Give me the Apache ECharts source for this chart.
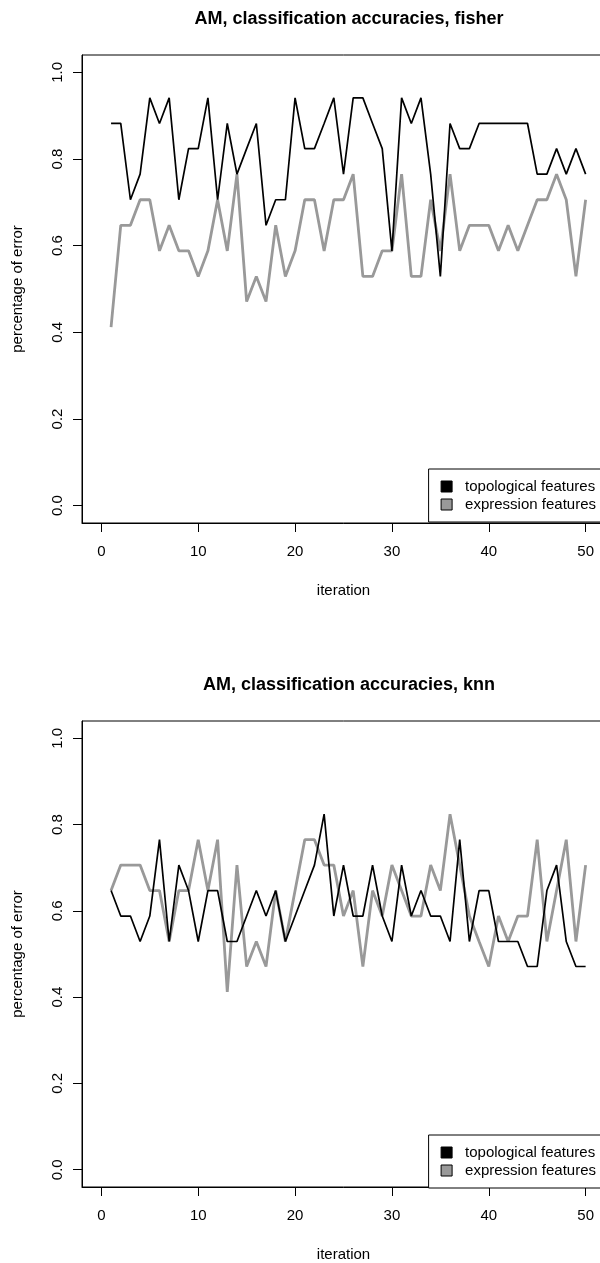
<!DOCTYPE html>
<html>
<head>
<meta charset="utf-8">
<script src="https://cdn.jsdelivr.net/npm/echarts@6/dist/echarts.min.js"></script>
<style>
html,body{margin:0;padding:0;background:#fff;overflow:hidden;width:600px;height:1263px;}
#c{width:606px;height:1263px;}
</style>
</head>
<body>
<div id="c"></div>
<script>
const iterations = [1,2,3,4,5,6,7,8,9,10,11,12,13,14,15,16,17,18,19,20,21,22,23,24,25,26,27,28,29,30,31,32,33,34,35,36,37,38,39,40,41,42,43,44,45,46,47,48,49,50];

const fisherTopological = [0.882,0.882,0.706,0.765,0.941,0.882,0.941,0.706,0.824,0.824,
  0.941,0.706,0.882,0.765,0.824,0.882,0.647,0.706,0.706,0.941,
  0.824,0.824,0.882,0.941,0.765,0.941,0.941,0.882,0.824,0.588,
  0.941,0.882,0.941,0.765,0.529,0.882,0.824,0.824,0.882,0.882,
  0.882,0.882,0.882,0.882,0.765,0.765,0.824,0.765,0.824,0.765];
const fisherExpression = [0.412,0.647,0.647,0.706,0.706,0.588,0.647,0.588,0.588,0.529,
  0.588,0.706,0.588,0.765,0.471,0.529,0.471,0.647,0.529,0.588,
  0.706,0.706,0.588,0.706,0.706,0.765,0.529,0.529,0.588,0.588,
  0.765,0.529,0.529,0.706,0.588,0.765,0.588,0.647,0.647,0.647,
  0.588,0.647,0.588,0.647,0.706,0.706,0.765,0.706,0.529,0.706];

const knnTopological = [0.647,0.588,0.588,0.529,0.588,0.765,0.529,0.706,0.647,0.529,
  0.647,0.647,0.529,0.529,0.588,0.647,0.588,0.647,0.529,0.588,
  0.647,0.706,0.824,0.588,0.706,0.588,0.588,0.706,0.588,0.529,
  0.706,0.588,0.647,0.588,0.588,0.529,0.765,0.529,0.647,0.647,
  0.529,0.529,0.529,0.471,0.471,0.647,0.706,0.529,0.471,0.471];
const knnExpression = [0.647,0.706,0.706,0.706,0.647,0.647,0.529,0.647,0.647,0.765,
  0.647,0.765,0.412,0.706,0.471,0.529,0.471,0.647,0.529,0.647,
  0.765,0.765,0.706,0.706,0.588,0.647,0.471,0.647,0.588,0.706,
  0.647,0.588,0.588,0.706,0.647,0.824,0.706,0.588,0.529,0.471,
  0.588,0.529,0.588,0.588,0.765,0.529,0.647,0.765,0.529,0.706];

const xTicks = [0,10,20,30,40,50];
const yTicks = [0,0.2,0.4,0.6,0.8,1.0];
const titles = ['AM, classification accuracies, fisher','AM, classification accuracies, knn'];
const seriesNames = ['topological features','expression features'];

const FONT = 'Liberation Sans, Arial, Helvetica, sans-serif';
const panelTops = [55, 721];
const plotH = 468;

function pairs(vals){ return iterations.map((it,i)=>[it, vals[i]]); }

const grids = panelTops.map(t => ({left: 82, right: 1, top: t, height: plotH, show: true, borderColor: '#000', borderWidth: 1, backgroundColor: 'transparent'}));

const xAxes = panelTops.map((t,i) => ({
  type: 'value', gridIndex: i, min: -2, max: 52,
  splitLine: {show: false},
  axisLine: {show: true, onZero: false, lineStyle: {color: '#000', width: 1}},
  axisTick: {show: true, length: 9, customValues: xTicks, lineStyle: {color: '#000'}},
  axisLabel: {customValues: xTicks, color: '#000', fontSize: 15, fontFamily: FONT, margin: 21},
  name: 'iteration', nameLocation: 'middle', nameGap: 60,
  nameTextStyle: {color: '#000', fontSize: 15, fontFamily: FONT}
}));

const yAxes = panelTops.map((t,i) => ({
  type: 'value', gridIndex: i, min: -0.04, max: 1.04,
  splitLine: {show: false},
  axisLine: {show: true, onZero: false, lineStyle: {color: '#000', width: 1}},
  axisTick: {show: true, length: 9, customValues: yTicks, lineStyle: {color: '#000'}},
  axisLabel: {customValues: yTicks, color: '#000', fontSize: 15, fontFamily: FONT, rotate: 90, margin: 17,
    formatter: v => v.toFixed(1)},
  name: 'percentage of error', nameLocation: 'middle', nameGap: 57,
  nameTextStyle: {color: '#000', fontSize: 15, fontFamily: FONT}
}));

const panelData = [[fisherTopological, fisherExpression],[knnTopological, knnExpression]];
const series = [];
panelData.forEach((pd, i) => {
  series.push({name: seriesNames[0], type: 'line', xAxisIndex: i, yAxisIndex: i, data: pairs(pd[0]),
    showSymbol: false, symbol: 'none', animation: false, z: 3,
    lineStyle: {color: '#000', width: 1.7}, itemStyle: {color: '#000'}});
  series.push({name: seriesNames[1], type: 'line', xAxisIndex: i, yAxisIndex: i, data: pairs(pd[1]),
    showSymbol: false, symbol: 'none', animation: false, z: 2,
    lineStyle: {color: '#999999', width: 2.8}, itemStyle: {color: '#999999'}});
});

const legends = panelTops.map(t => ({
  orient: 'vertical', right: 1, top: t + plotH - 54,
  data: seriesNames, icon: 'rect', itemWidth: 11, itemHeight: 11, itemGap: 3,
  padding: [10, 9, 10, 12], borderColor: '#000', borderWidth: 1, backgroundColor: '#fff',
  selectedMode: false,
  itemStyle: {borderColor: '#000', borderWidth: 1},
  textStyle: {color: '#000', fontSize: 15, fontFamily: FONT, lineHeight: 15, padding: [0,0,0,8]}
}));

const titleComps = panelTops.map((t,i) => ({
  text: titles[i], left: 344, textAlign: 'center', top: t - 50,
  textStyle: {fontSize: 18, fontWeight: 'bold', color: '#000', fontFamily: FONT, lineHeight: 18}
}));

const chart = echarts.init(document.getElementById('c'), null, {renderer: 'canvas'});
chart.setOption({
  animation: false,
  backgroundColor: '#fff',
  title: titleComps,
  grid: grids,
  xAxis: xAxes,
  yAxis: yAxes,
  legend: legends,
  series: series
});
</script>
</body>
</html>
